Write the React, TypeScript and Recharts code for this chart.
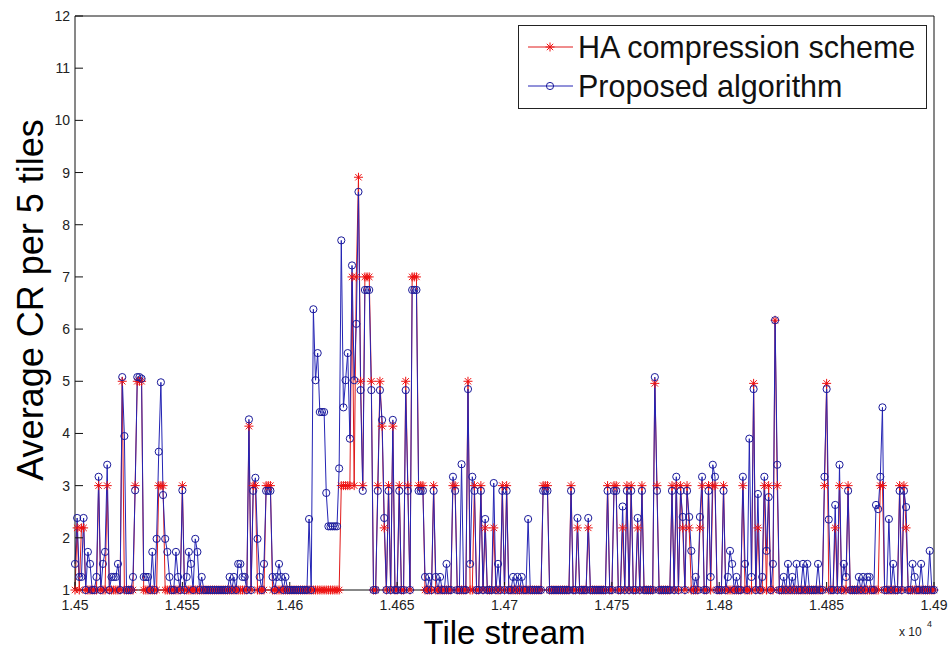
import React from 'react';
import { LineChart, Line, XAxis, YAxis, Legend, Label } from 'recharts';

const startTile = 14500;
const endTile = 14900;

// offsets (tile - 14500) where values differ from the baseline of 1
const spikeOffsets = [
  0, 1, 2, 3, 4, 6, 7, 10, 11, 13,
  14, 15, 17, 18, 19, 20, 22, 23, 27, 28,
  29, 30, 31, 32, 33, 34, 36, 38, 39, 40,
  41, 42, 43, 44, 47, 48, 50, 52, 53, 54,
  56, 57, 59, 72, 74, 76, 77, 78, 79, 81,
  83, 84, 85, 86, 88, 89, 90, 91, 92, 94,
  95, 96, 98, 109, 111, 112, 113, 114, 115, 116,
  117, 118, 119, 120, 121, 122, 123, 124, 125, 126,
  127, 128, 129, 130, 131, 132, 133, 134, 135, 136,
  137, 138, 141, 142, 143, 144, 146, 148, 151, 154,
  155, 157, 158, 159, 160, 161, 162, 163, 165, 167,
  168, 170, 173, 176, 177, 180, 183, 184, 185, 186,
  189, 191, 195, 197, 199, 201, 204, 206, 208, 211,
  218, 219, 220, 231, 234, 239, 248, 251, 252, 255,
  257, 259, 262, 264, 270, 271, 278, 280, 282, 283,
  285, 286, 287, 289, 291, 292, 295, 296, 297, 298,
  302, 304, 305, 306, 308, 311, 312, 314, 315, 316,
  318, 320, 321, 322, 323, 325, 326, 327, 330, 332,
  334, 336, 339, 341, 346, 349, 350, 351, 354, 356,
  358, 359, 360, 365, 367, 369, 370, 373, 374, 375,
  376, 379, 381, 384, 386, 387, 390, 391, 394, 398,
];

const haSpikes = [
  1, 2.19, 1, 2.19, 2.19, 1, 1, 1, 3, 1,
  1, 3, 1, 1, 1, 1, 5, 1, 1, 3,
  5, 5, 5, 1, 1, 1, 1, 1, 3, 3,
  3, 1, 1, 1, 1, 1, 3, 1, 1, 1,
  1, 1, 1, 1, 1, 1, 1, 1, 1, 4.14,
  3, 3, 1, 1, 1, 3, 3, 3, 1, 1,
  1, 1, 1, 1, 1, 1, 1, 1, 1, 1,
  1, 1, 1, 1, 1, 1, 1, 3, 3, 3,
  3, 3, 7, 3, 7, 8.91, 5, 3, 7, 7,
  7, 5, 3, 5, 4.14, 2.19, 3, 4.14, 3, 5,
  3, 7, 7, 7, 3, 3, 3, 1, 1, 3,
  1, 1, 1, 3, 3, 1, 5, 1, 1, 3,
  3, 2.19, 2.19, 1, 3, 3, 1, 1, 1, 1,
  3, 3, 3, 3, 2.19, 2.19, 3, 3, 3, 2.19,
  3, 3, 2.19, 3, 4.96, 3, 3, 3, 3, 2.19,
  3, 2.19, 1, 1, 2.19, 3, 3, 1, 3, 3,
  3, 1, 1, 1, 1, 3, 1, 1, 1, 4.96,
  2.19, 1, 3, 1, 3, 1, 6.17, 3, 1, 1,
  1, 1, 1, 1, 1, 3, 4.96, 1, 2.19, 3,
  1, 1, 3, 1, 1, 1, 1, 1, 1, 3,
  3, 1, 1, 3, 3, 2.19, 1, 1, 1, 1,
];

const proposedSpikes = [
  1.5, 2.38, 1.25, 1.25, 2.38, 1.73, 1.5, 1.25, 3.17, 1.5,
  1.73, 3.4, 1.25, 1.25, 1.25, 1.5, 5.08, 3.95, 1.25, 2.91,
  5.08, 5.08, 5.05, 1.25, 1.25, 1.25, 1.73, 1.98, 3.65, 4.98,
  2.82, 1.98, 1.73, 1.25, 1.73, 1.25, 2.91, 1.25, 1.73, 1.5,
  1.98, 1.73, 1.25, 1.25, 1.25, 1.5, 1.5, 1.25, 1.25, 4.27,
  2.9, 3.15, 1.98, 1.25, 1.5, 2.9, 2.9, 2.9, 1.25, 1.25,
  1.5, 1.25, 1.25, 2.36, 6.38, 5.02, 5.54, 4.41, 4.41, 4.41,
  2.86, 2.22, 2.22, 2.22, 2.22, 2.22, 3.33, 7.7, 4.5, 5.02,
  5.54, 3.9, 7.22, 5.02, 6.1, 8.63, 4.83, 2.9, 6.75, 6.75,
  6.75, 4.83, 2.9, 4.83, 4.26, 2.38, 2.9, 4.26, 2.9, 4.83,
  2.9, 6.75, 6.75, 6.75, 2.9, 2.9, 2.9, 1.25, 1.25, 2.9,
  1.25, 1.25, 1.5, 3.17, 2.9, 3.41, 4.85, 1.5, 3.17, 2.9,
  2.9, 2.36, 3.05, 1.5, 2.9, 2.9, 1.25, 1.25, 1.25, 2.36,
  2.9, 2.9, 2.9, 2.9, 2.38, 2.38, 2.9, 2.9, 2.9, 2.6,
  2.9, 2.9, 2.38, 2.9, 5.08, 2.9, 2.9, 3.17, 2.9, 2.4,
  2.9, 2.4, 1.75, 1.25, 2.4, 3.17, 2.9, 1.25, 3.4, 3.17,
  2.9, 1.25, 1.75, 1.5, 1.25, 3.17, 1.5, 3.9, 1.25, 4.85,
  2.84, 1.25, 3.17, 1.75, 2.78, 1.5, 6.17, 3.4, 1.25, 1.5,
  1.25, 1.5, 1.5, 1.5, 1.5, 3.17, 4.85, 2.35, 2.63, 3.4,
  1.5, 1.25, 2.9, 1.25, 1.25, 1.25, 1.25, 2.63, 2.55, 3.17,
  4.5, 2.36, 1.5, 2.9, 2.9, 2.59, 1.5, 1.25, 1.5, 1.75,
];

const xTicks = [14500, 14550, 14600, 14650, 14700, 14750, 14800, 14850, 14900];
const yTicks = [1, 2, 3, 4, 5, 6, 7, 8, 9, 10, 11, 12];
const seriesNames = ['HA compression scheme', 'Proposed algorithm'];

const baselineValue = 1;
const data: { tile: number; ha: number; proposed: number }[] = [];
for (let t = startTile; t <= endTile; t++) {
  data.push({ tile: t, ha: baselineValue, proposed: baselineValue });
}
spikeOffsets.forEach((o, i) => {
  data[o].ha = haSpikes[i];
  data[o].proposed = proposedSpikes[i];
});

const RED = '#ee1111';
const RED_LINE = '#e01a1a';
const BLUE = '#1a1a9a';
const BLUE_LINE = '#2424b4';
const FONT = '"Liberation Sans", Arial, Helvetica, sans-serif';

const StarShape = ({ cx, cy, k }: { cx: number; cy: number; k?: string | number }) => {
  const s = 4.5;
  const d = 3.2;
  return (
    <g key={k} stroke={RED} strokeWidth={1} fill="none">
      <line x1={cx - s} y1={cy} x2={cx + s} y2={cy} />
      <line x1={cx} y1={cy - s} x2={cx} y2={cy + s} />
      <line x1={cx - d} y1={cy - d} x2={cx + d} y2={cy + d} />
      <line x1={cx - d} y1={cy + d} x2={cx + d} y2={cy - d} />
    </g>
  );
};

const renderStar = (props: any) => {
  const { cx, cy, index } = props;
  if (cx == null || cy == null) return <g key={`s${index}`} />;
  return <StarShape key={`s${index}`} k={`s${index}`} cx={cx} cy={cy} />;
};

const renderCircle = (props: any) => {
  const { cx, cy, index } = props;
  if (cx == null || cy == null) return <g key={`c${index}`} />;
  return <circle key={`c${index}`} cx={cx} cy={cy} r={3.6} stroke={BLUE} strokeWidth={1} fill="none" />;
};

const LegendBox = () => (
  <svg width={409} height={84} style={{ display: 'block' }}>
    <rect x={0.5} y={0.5} width={408} height={83} fill="#fff" stroke="#222" strokeWidth={1} />
    <line x1={10} y1={22} x2={55} y2={22} stroke={RED_LINE} strokeWidth={1} />
    <StarShape cx={32} cy={22} />
    <text x={60} y={33} fontFamily={FONT} fontSize={30.5} fill="#111">{seriesNames[0]}</text>
    <line x1={10} y1={61} x2={55} y2={61} stroke={BLUE_LINE} strokeWidth={1} />
    <circle cx={32} cy={61} r={3.6} stroke={BLUE} strokeWidth={1} fill="none" />
    <text x={60} y={72} fontFamily={FONT} fontSize={30.5} fill="#111">{seriesNames[1]}</text>
  </svg>
);

const fmtX = (v: number) => String(+(v / 10000).toFixed(4));

export default function App() {
  return (
    <div style={{ position: 'absolute', left: 0, top: 0, width: 949, height: 650, background: '#fff' }}>
      <LineChart
        width={949}
        height={650}
        data={data}
        margin={{ top: 15, right: 14, left: 0, bottom: 0 }}
      >
        <XAxis
          dataKey="tile"
          type="number"
          domain={[startTile, endTile]}
          ticks={xTicks}
          tickFormatter={fmtX}
          height={60}
          tickSize={-8}
          tickMargin={18}
          stroke="#111"
          tick={{ fill: '#222', fontSize: 14, fontFamily: FONT }}
        >
          <Label
            value="Tile stream"
            position="insideBottom"
            offset={6}
            style={{ fontSize: 33, fontFamily: FONT, fill: '#000' }}
          />
        </XAxis>
        <XAxis
          xAxisId="top"
          orientation="top"
          type="number"
          domain={[startTile, endTile]}
          ticks={xTicks}
          tickFormatter={() => ''}
          height={1}
          tickSize={-8}
          stroke="#111"
        />
        <YAxis
          type="number"
          domain={[1, 12]}
          ticks={yTicks}
          width={75}
          tickSize={-8}
          tickMargin={13}
          stroke="#111"
          tick={{ fill: '#222', fontSize: 14, fontFamily: FONT }}
        >
          <Label
            content={() => (
              <text
                x={43}
                y={300}
                transform="rotate(-90 43 300)"
                textAnchor="middle"
                fontFamily={FONT}
                fontSize={36}
                fill="#000"
              >
                Average CR per 5 tiles
              </text>
            )}
          />
        </YAxis>
        <YAxis
          yAxisId="right"
          orientation="right"
          type="number"
          domain={[1, 12]}
          ticks={yTicks}
          tickFormatter={() => ''}
          width={1}
          tickSize={-8}
          stroke="#111"
        />
        <Legend
          layout="horizontal"
          verticalAlign="middle"
          align="center"
          wrapperStyle={{ position: 'absolute', left: 518, top: 25, width: 409, height: 84 }}
          content={() => <LegendBox />}
        />
        <Line
          type="linear"
          dataKey="ha"
          name={seriesNames[0]}
          stroke={RED_LINE}
          strokeWidth={1}
          dot={renderStar}
          activeDot={false}
          isAnimationActive={false}
        />
        <Line
          type="linear"
          dataKey="proposed"
          name={seriesNames[1]}
          stroke={BLUE_LINE}
          strokeWidth={1}
          dot={renderCircle}
          activeDot={false}
          isAnimationActive={false}
        />
      </LineChart>
      <svg
        width={60}
        height={30}
        style={{ position: 'absolute', left: 895, top: 616, pointerEvents: 'none' }}
      >
        <text x={4} y={20} fontFamily={FONT} fontSize={12} fill="#222">x 10</text>
        <text x={32} y={11} fontFamily={FONT} fontSize={9} fill="#222">4</text>
      </svg>
    </div>
  );
}
